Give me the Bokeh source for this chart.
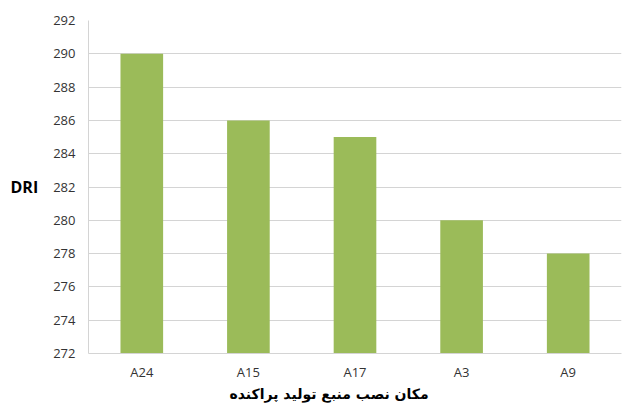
from bokeh.plotting import figure
from bokeh.models import Range1d, FactorRange, Title, FixedTicker
from bokeh.embed import file_html
from bokeh.resources import INLINE

# DRI per candidate bus for the distributed generation unit
locations = ["A24", "A15", "A17", "A3", "A9"]
dri_values = [290, 286, 285, 280, 278]
y_ticks = [272, 274, 276, 278, 280, 282, 284, 286, 288, 290, 292]

x_title = "مکان  نصب منبع تولید پراکنده"
y_title = "DRI"

p = figure(
    width=622, height=408,
    x_range=FactorRange(*locations, range_padding=0),
    y_range=Range1d(272, 292),
    output_backend="svg", toolbar_location=None,
    min_border_left=88, min_border_right=1,
    min_border_top=20, min_border_bottom=55,
)
p.outline_line_color = None
p.background_fill_color = "white"
p.border_fill_color = "white"

p.vbar(x=locations, top=dri_values, bottom=272, width=0.4,
       fill_color="#9BBB59", line_color=None)

grid_color = "#d4d4d4"
p.xgrid.grid_line_color = None
p.ygrid.grid_line_color = grid_color
p.ygrid.ticker = FixedTicker(ticks=y_ticks)

p.yaxis.ticker = FixedTicker(ticks=y_ticks)
p.yaxis.axis_line_color = grid_color
p.yaxis.major_tick_line_color = None
p.yaxis.minor_tick_line_color = None
p.yaxis.major_tick_out = 0
p.yaxis.major_label_standoff = 13
p.yaxis.major_label_text_font = "Open Sans"
p.yaxis.major_label_text_font_size = "13px"
p.yaxis.major_label_text_color = "#333333"
p.yaxis.axis_label = y_title
p.yaxis.axis_label_orientation = "horizontal"
p.yaxis.axis_label_standoff = 12
p.yaxis.axis_label_text_font = "Open Sans"
p.yaxis.axis_label_text_font_style = "bold"
p.yaxis.axis_label_text_font_size = "16px"
p.yaxis.axis_label_text_color = "black"

p.xaxis.axis_line_color = grid_color
p.xaxis.major_tick_line_color = None
p.xaxis.major_tick_out = 0
p.xaxis.major_label_standoff = 9
p.xaxis.major_label_text_font = "Open Sans"
p.xaxis.major_label_text_font_size = "13px"
p.xaxis.major_label_text_color = "#333333"

# category-axis title, set a little left of the frame centre
p.add_layout(Title(text=x_title, align="left", offset=141, standoff=0,
                   text_font="DejaVu Sans", text_font_style="bold",
                   text_font_size="14px", text_color="black"), "below")

open("out.html", "w").write(file_html(p, INLINE))
